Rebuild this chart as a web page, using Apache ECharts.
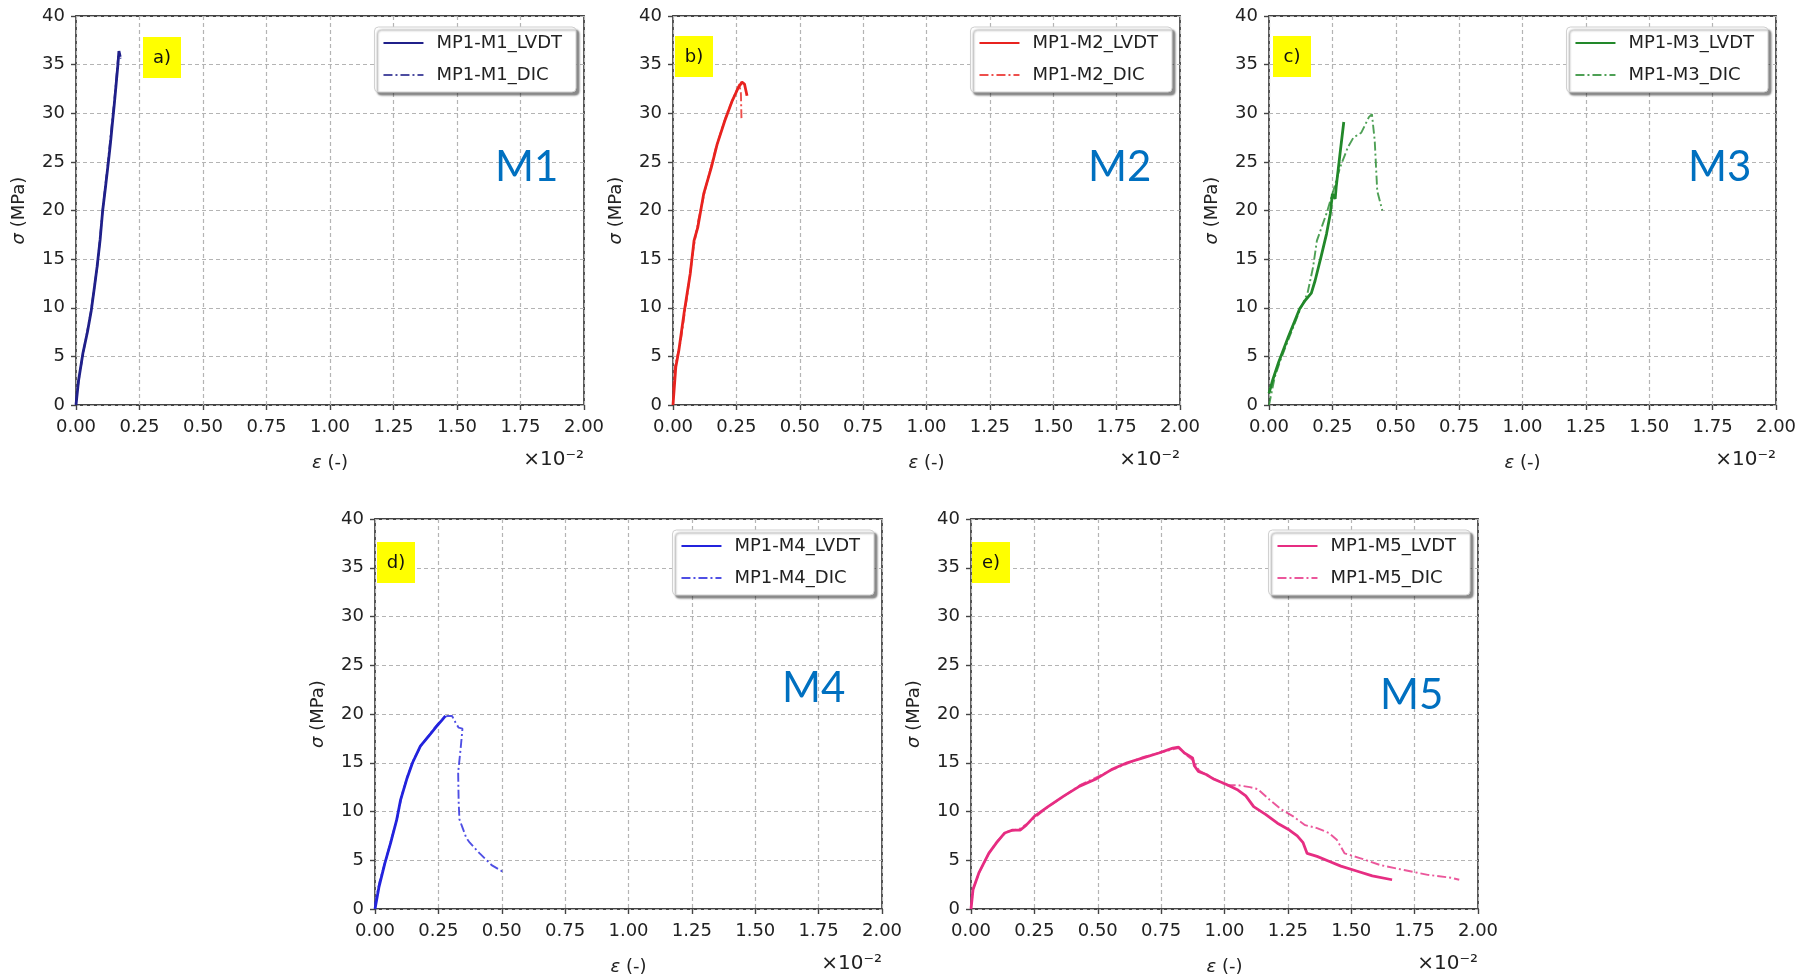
<!DOCTYPE html>
<html>
<head>
<meta charset="utf-8">
<script src="https://cdn.jsdelivr.net/npm/echarts/dist/echarts.min.js"></script>
<style>
html,body{margin:0;padding:0;background:#fff;}
#chart{width:1802px;height:980px;}
</style>
</head>
<body>
<div id="chart"></div>
<script>
// strain in units of 1e-2, stress in MPa
var m1Lvdt = [[0,0],[0.01,2.5],[0.027,5.3],[0.045,7.5],[0.06,9.7],[0.072,12],[0.083,14.2],[0.095,17],[0.105,20],[0.117,22.6],[0.128,25.1],[0.136,27],[0.143,28.9],[0.151,31],[0.158,33],[0.165,35],[0.169,36.4],[0.172,36.6],[0.174,35.8]];
var m1Dic = [[0,0.3],[0.012,2.8],[0.03,5.6],[0.058,9.5],[0.085,14.5],[0.104,19.8],[0.125,24.8],[0.14,28.6],[0.155,32.4],[0.165,35.5],[0.168,36.2],[0.176,35.6]];

var m2Lvdt = [[0,0],[0.011,3.9],[0.023,5.6],[0.045,9.7],[0.068,13.5],[0.083,16.9],[0.098,18.3],[0.121,21.7],[0.151,24.4],[0.174,26.8],[0.204,29.2],[0.234,31.3],[0.257,32.6],[0.272,33.2],[0.282,33.0],[0.292,31.8]];
var m2Dic = [[0,1.5],[0.008,4],[0.03,6.5],[0.06,12],[0.08,16],[0.1,19],[0.13,22.5],[0.17,26.5],[0.21,29.8],[0.245,32],[0.262,33],[0.268,32],[0.27,29.5]];

var m3Lvdt = [[0,1.2],[0.015,2.6],[0.038,4.4],[0.076,7],[0.121,9.9],[0.144,10.8],[0.167,11.5],[0.182,12.8],[0.205,15.2],[0.227,17.6],[0.242,19.7],[0.25,21.7],[0.261,21.2],[0.265,22.4],[0.28,25.8],[0.295,29.1]];
var m3Dic = [[0,0],[0.023,2.9],[0.045,4.6],[0.076,6.7],[0.121,9.7],[0.152,11.5],[0.174,14.2],[0.189,16.9],[0.212,18.6],[0.227,19.7],[0.25,21.7],[0.28,24.4],[0.311,26.5],[0.333,27.5],[0.364,28],[0.394,29.6],[0.406,29.9],[0.417,27.2],[0.427,22],[0.447,20]];

var m4Lvdt = [[0,0],[0.016,2.3],[0.039,4.7],[0.062,6.8],[0.086,9.2],[0.101,11.2],[0.125,13.3],[0.148,15],[0.179,16.7],[0.211,17.7],[0.242,18.7],[0.265,19.4],[0.278,19.8]];
var m4Dic = [[0,0.5],[0.018,2.8],[0.042,5],[0.065,7.2],[0.09,9.6],[0.105,11.6],[0.128,13.6],[0.152,15.3],[0.185,16.9],[0.215,17.9],[0.245,18.9],[0.268,19.5],[0.285,19.8],[0.304,19.8],[0.318,19.1],[0.33,18.6],[0.345,18.5],[0.338,16.5],[0.328,14],[0.33,11],[0.333,9.2],[0.343,8.5],[0.36,7.3],[0.374,6.8],[0.413,5.7],[0.46,4.5],[0.499,3.9],[0.507,3.6]];

var m5Lvdt = [[0,0],[0.008,2],[0.031,3.7],[0.07,5.7],[0.101,6.8],[0.133,7.8],[0.164,8.1],[0.195,8.1],[0.218,8.6],[0.25,9.5],[0.304,10.5],[0.367,11.6],[0.429,12.6],[0.491,13.3],[0.554,14.3],[0.616,15],[0.679,15.5],[0.741,16],[0.796,16.5],[0.819,16.6],[0.842,16],[0.874,15.5],[0.881,14.7],[0.897,14.1],[0.928,13.8],[0.959,13.3],[1.006,12.8],[1.053,12.2],[1.084,11.6],[1.115,10.5],[1.162,9.7],[1.209,8.8],[1.256,8.1],[1.287,7.5],[1.31,6.8],[1.326,5.7],[1.365,5.4],[1.412,4.9],[1.459,4.4],[1.521,3.9],[1.583,3.4],[1.661,3.0]];
var m5Dic = [[0,0.3],[0.01,2.2],[0.035,3.9],[0.075,5.9],[0.105,7],[0.14,7.9],[0.19,8.2],[0.225,8.8],[0.3,10.4],[0.43,12.7],[0.55,14.2],[0.68,15.6],[0.8,16.4],[0.82,16.5],[0.845,15.9],[0.878,15.2],[0.9,14.2],[0.94,13.6],[0.98,13.1],[1.006,12.7],[1.053,12.7],[1.1,12.5],[1.131,12.3],[1.178,11.2],[1.225,10.2],[1.271,9.5],[1.318,8.6],[1.365,8.3],[1.412,7.8],[1.443,7.1],[1.474,5.7],[1.537,5.2],[1.615,4.5],[1.708,4],[1.802,3.5],[1.895,3.2],[1.926,3.0]];

var lvdtData = [m1Lvdt, m2Lvdt, m3Lvdt, m4Lvdt, m5Lvdt];
var dicData = [m1Dic, m2Dic, m3Dic, m4Dic, m5Dic];
var lvdtNames = ['MP1-M1_LVDT','MP1-M2_LVDT','MP1-M3_LVDT','MP1-M4_LVDT','MP1-M5_LVDT'];
var dicNames = ['MP1-M1_DIC','MP1-M2_DIC','MP1-M3_DIC','MP1-M4_DIC','MP1-M5_DIC'];
var panelTags = ['a)','b)','c)','d)','e)'];
var panelTitles = ['M1','M2','M3','M4','M5'];
var colors = ['#20208a','#e8231f','#22882a','#2323dd','#e62d82'];

var xMin = 0, xMax = 2, xStep = 0.25;
var yMin = 0, yMax = 40, yStep = 5;

// layout of the five plot boxes (pixels)
var W = 1802;
var panels = [
    {left:76,  top:16,  width:508, height:389, tagDx:67, tagDy:21, mDx:419, mDy:151},
    {left:673, top:16,  width:507, height:389, tagDx:2,  tagDy:20, mDx:415, mDy:151},
    {left:1269,top:16,  width:507, height:389, tagDx:4,  tagDy:20, mDx:419, mDy:151},
    {left:375, top:519, width:507, height:390, tagDx:2,  tagDy:23, mDx:407, mDy:169},
    {left:971, top:519, width:507, height:390, tagDx:1,  tagDy:23, mDx:409, mDy:176}
];

var baseFont = 'DejaVu Sans';
var textColor = '#222';

var grids = [], xAxes = [], yAxes = [], series = [], legends = [], graphics = [];

for(var i=0;i<panels.length;i++){
    var p = panels[i];
    grids.push({
        left:p.left, top:p.top, width:p.width, height:p.height,
        show:true, borderColor:'#444', borderWidth:1.8, backgroundColor:'#fff',
        outerBoundsMode:'none', containLabel:false
    });
    xAxes.push({
        type:'value', gridIndex:i, min:xMin, max:xMax, interval:xStep,
        name:'{i|ε} (-)', nameLocation:'middle', nameGap:49,
        nameTextStyle:{color:textColor, fontFamily:baseFont, fontSize:18, rich:{i:{fontStyle:'italic', fontFamily:baseFont, fontSize:18, color:textColor}}},
        axisLine:{show:false},
        axisTick:{show:true, inside:false, length:5, lineStyle:{color:'#444', width:1.4}},
        axisLabel:{color:textColor, fontFamily:baseFont, fontSize:18, margin:13, formatter:function(v){return v.toFixed(2);}},
        splitLine:{show:true, lineStyle:{color:'#b4b4b4', width:1.2, type:[4,3]}}
    });
    yAxes.push({
        type:'value', gridIndex:i, min:yMin, max:yMax, interval:yStep,
        name:'{i|σ} (MPa)', nameLocation:'middle', nameGap:48, nameRotate:90,
        nameTextStyle:{color:textColor, fontFamily:baseFont, fontSize:18, rich:{i:{fontStyle:'italic', fontFamily:baseFont, fontSize:18, color:textColor}}},
        axisLine:{show:false},
        axisTick:{show:true, inside:false, length:5, lineStyle:{color:'#444', width:1.4}},
        axisLabel:{color:textColor, fontFamily:baseFont, fontSize:18, margin:11},
        splitLine:{show:true, lineStyle:{color:'#b4b4b4', width:1.2, type:[4,3]}}
    });
    series.push({
        name:lvdtNames[i], type:'line', xAxisIndex:i, yAxisIndex:i,
        data:lvdtData[i], symbol:'none', smooth:false,
        lineStyle:{color:colors[i], width:2.8, type:'solid'},
        itemStyle:{color:colors[i]}
    });
    series.push({
        name:dicNames[i], type:'line', xAxisIndex:i, yAxisIndex:i,
        data:dicData[i], symbol:'none', smooth:false,
        lineStyle:{color:colors[i], width:1.9, type:[9,3,2,3], opacity:0.8},
        itemStyle:{color:colors[i], opacity:0.8}
    });
    legends.push({
        data:[lvdtNames[i], dicNames[i]], orient:'vertical',
        right: W - (p.left + p.width) + 8, top: p.top + 11,
        itemWidth:40, itemHeight:20, itemGap:14,
        padding:[7,14,8,8],
        itemStyle:{opacity:0},
        backgroundColor:'#fff', borderColor:'#cfcfcf', borderWidth:1, borderRadius:4,
        shadowColor:'rgba(0,0,0,0.45)', shadowBlur:2, shadowOffsetX:3, shadowOffsetY:3,
        selectedMode:false,
        textStyle:{color:textColor, fontFamily:baseFont, fontSize:18, padding:[0,0,0,8]}
    });
    // yellow panel tag
    graphics.push({
        type:'rect', z:10,
        shape:{x:p.left + p.tagDx, y:p.top + p.tagDy, width:38, height:41},
        style:{fill:'#ffff00'}
    });
    graphics.push({
        type:'text', z:11,
        x:p.left + p.tagDx + 19, y:p.top + p.tagDy + 21,
        style:{text:panelTags[i], fill:'#111', font:'18px DejaVu Sans', align:'center', verticalAlign:'middle', textAlign:'center', textVerticalAlign:'middle'}
    });
    // big blue specimen name
    graphics.push({
        type:'text', z:11,
        x:p.left + p.mDx, y:p.top + p.mDy,
        style:{text:panelTitles[i], fill:'#0070c0', font:'42px Lato', align:'left', verticalAlign:'middle', textAlign:'left', textVerticalAlign:'middle'}
    });
    // axis multiplier
    graphics.push({
        type:'text', z:11,
        x:p.left + p.width, y:p.top + p.height + 55,
        style:{text:'×10⁻²', fill:textColor, font:'20px DejaVu Sans', align:'right', verticalAlign:'middle', textAlign:'right', textVerticalAlign:'middle'}
    });
}

var chart = echarts.init(document.getElementById('chart'), null, {renderer:'canvas'});
chart.setOption({
    backgroundColor:'#fff',
    animation:false,
    grid:grids,
    xAxis:xAxes,
    yAxis:yAxes,
    legend:legends,
    series:series,
    graphic:graphics
});
</script>
</body>
</html>
